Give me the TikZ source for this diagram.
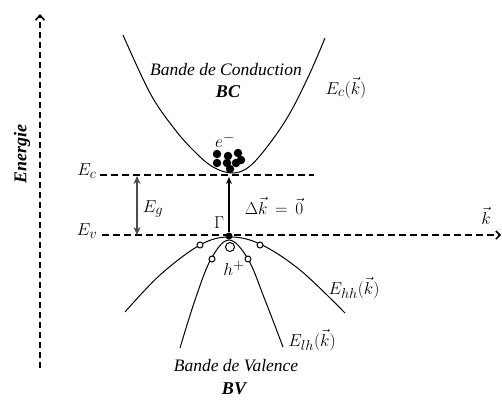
\documentclass[tikz,border=0pt]{standalone}
\usepackage{fontspec}
\setmainfont{Liberation Serif}
\usetikzlibrary{arrows.meta}
\begin{document}
\begin{tikzpicture}[x=1pt,y=-1pt,
  dline/.style={line width=1.6pt, dash pattern=on 7pt off 4pt},
  band/.style={line width=1pt},
  hole/.style={circle, draw, line width=1pt, minimum size=6pt, inner sep=0pt, fill=white},
  elec/.style={circle, fill=black, minimum size=8.5pt, inner sep=0pt},
  lbl/.style={font=\fontsize{17.5}{20}\selectfont\itshape, inner sep=0pt},
  blbl/.style={font=\fontsize{18}{20}\selectfont\bfseries\itshape, inner sep=0pt},
  mlbl/.style={font=\fontsize{19}{22}\selectfont, inner sep=0pt}]
\useasboundingbox (0,0) rectangle (502,399);
% energy axis
\coordinate (ax0) at (40,368);
\coordinate (ax1) at (40,14);
\draw[line width=1.6pt, dash pattern=on 6pt off 4pt, -{Straight Barb[length=5pt,width=9pt]}] (ax0) -- (ax1);
\node[blbl, rotate=90] (en) at (22,154) {Energie};
% Ec and Ev lines
\coordinate (ec1) at (100,175);
\coordinate (ec2) at (314,175);
\draw[dline] (ec1) -- (ec2);
\coordinate (ev1) at (102,235);
\coordinate (ev2) at (501,235);
\draw[dline, -{Straight Barb[length=4pt,width=8pt]}] (ev1) -- (ev2);
\node[mlbl] (lec) at (87,171) {$E_c$};
\node[mlbl] (lev) at (87,231) {$E_v$};
\node[mlbl] (lk) at (486,216) {$\vec{k}$};
% gap arrow
\coordinate (g1) at (137,176);
\coordinate (g2) at (137,235);
\draw[line width=1.5pt, gray!60!black, {Stealth[length=8pt,width=7pt]}-{Stealth[length=8pt,width=7pt]}] (g1) -- (g2);
\node[mlbl] (leg) at (153,209) {$E_g$};
% conduction band
\draw[band] plot[smooth, tension=0.6] coordinates {(123,35) (150,93) (173,127) (193,150) (213,167) (233,173) (250,166) (270,143) (290,113) (310,73) (325,38)};
\node[lbl] (bc) at (226,70) {Bande de Conduction};
\node[blbl] (bcs) at (228,92) {BC};
\node[mlbl] (lck) at (346,88) {$E_c(\vec{k})$};
% electrons
\node[mlbl] (le) at (225,140) {$e^-$};
\foreach \p/\n in {{(217,154)}/e1,{(228,156)}/e2,{(238,153)}/e3,{(217,163)}/e4,{(227,163)}/e5,{(236,163)}/e6,{(241,160)}/e7,{(230,169)}/e8}
  \node[elec] (\n) at \p {};
% valence bands
\draw[band] plot[smooth, tension=0.6] coordinates {(125,312) (160,275) (200,245) (229,237) (260,244) (300,270) (345,313)};
\draw[band] plot[smooth, tension=0.6] coordinates {(180,348) (195,300) (211,259) (229,240) (248,259) (265,300) (283,347)};
\foreach \p/\n in {{(200,245)}/h1,{(212,259)}/h2,{(248,259)}/h4,{(260,245)}/h5}
  \node[hole] (\n) at \p {};
\node[hole, minimum size=9pt] (h3) at (230,247) {};
\node[elec, minimum size=7pt] (gam) at (229,236) {};
\node[mlbl] (lgam) at (219,223) {$\Gamma$};
\node[mlbl] (lh) at (234,268) {$h^+$};
% transition arrow
\coordinate (ctop) at (229,177);
\draw[line width=1.2pt, -{Stealth[length=7pt,width=6pt]}] (gam) -- (ctop);
\node[mlbl] (ldk) at (274,206) {$\Delta\vec{k}\,=\,\vec{0}$};
\node[mlbl] (lhh) at (354,288) {$E_{hh}(\vec{k})$};
\node[mlbl] (llh) at (312,340) {$E_{lh}(\vec{k})$};
\node[lbl] (bv) at (236,366) {Bande de Valence};
\node[blbl] (bvs) at (234,389) {BV};
\end{tikzpicture}
\end{document}
